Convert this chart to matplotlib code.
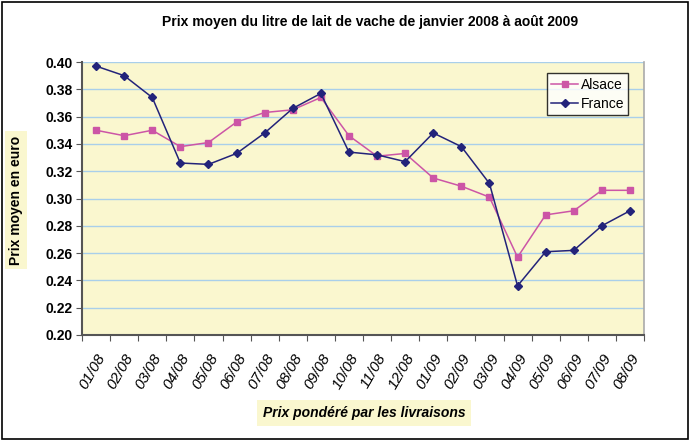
import matplotlib
matplotlib.use("Agg")
import matplotlib.pyplot as plt
from matplotlib.patches import Rectangle

plt.rcParams['font.family'] = ['Liberation Sans', 'DejaVu Sans']

months = ["01/08", "02/08", "03/08", "04/08", "05/08", "06/08", "07/08", "08/08", "09/08", "10/08",
          "11/08", "12/08", "01/09", "02/09", "03/09", "04/09", "05/09", "06/09", "07/09", "08/09"]
alsace = [0.350, 0.346, 0.350, 0.338, 0.341, 0.356, 0.363, 0.365, 0.374, 0.346,
          0.331, 0.333, 0.315, 0.309, 0.301, 0.257, 0.288, 0.291, 0.306, 0.306]
france = [0.397, 0.390, 0.374, 0.326, 0.325, 0.333, 0.348, 0.366, 0.377, 0.334,
          0.332, 0.327, 0.348, 0.338, 0.311, 0.236, 0.261, 0.262, 0.280, 0.291]
yticks = [0.20, 0.22, 0.24, 0.26, 0.28, 0.30, 0.32, 0.34, 0.36, 0.38, 0.40]

fig = plt.figure(figsize=(6.9, 4.41), dpi=100)
fig.patches.append(Rectangle((0.003, 0.005), 0.994, 0.99, transform=fig.transFigure,
                             fill=False, edgecolor='black', linewidth=1.2))
ax = fig.add_axes([82/690, 1-335/441, 562/690, 273/441])
ax.set_facecolor('#FAF7CF')

x = list(range(len(months)))
ax.plot(x, alsace, color='#CC55A6', marker='s', markersize=5, linewidth=1.1, label='Alsace', zorder=3)
ax.plot(x, france, color='#23237A', marker='D', markersize=4, linewidth=1.1, label='France', zorder=3)

ax.set_ylim(0.20, 0.40)
ax.set_xlim(-0.5, len(months) - 0.5)
ax.set_yticks(yticks)
ax.set_yticklabels([f"{v:.2f}" for v in yticks], fontsize=10, fontweight='bold')
ax.yaxis.grid(True, color='#A9CFEA', linewidth=1.0)
ax.set_axisbelow(True)

ax.set_xticks([i - 0.5 for i in range(len(months) + 1)])
ax.set_xticklabels([])
ax.set_xticks(x, minor=True)
ax.set_xticklabels(months, minor=True, rotation=60, ha='right', va='top', fontsize=11,
                   style='italic', rotation_mode='anchor')
ax.tick_params(axis='x', which='major', direction='out', length=4, color='#555555')
ax.tick_params(axis='x', which='minor', length=0, pad=12)
ax.tick_params(axis='y', direction='out', length=4, color='#555555', pad=3)

for s in ['left', 'bottom']:
    ax.spines[s].set_color('#555555')
    ax.spines[s].set_linewidth(1.5)
ax.spines['right'].set_color('#AAAAAA')
ax.spines['right'].set_linewidth(1.2)
ax.spines['top'].set_visible(False)

leg = ax.legend(loc='upper right', bbox_to_anchor=(0.972, 0.958), fontsize=10, frameon=True,
                fancybox=False, edgecolor='black', handlelength=1.9, borderpad=0.3,
                labelspacing=0.4, handletextpad=0.2, borderaxespad=0.0)
leg.get_frame().set_linewidth(1.0)

fig.text(370/690, 1-22/441, "Prix moyen du litre de lait de vache de janvier 2008 à août 2009",
         ha='center', va='center', fontsize=10, fontweight='bold')
fig.text(16/690, 1-200/441, "Prix moyen en euro", rotation=90, ha='center', va='center',
         fontsize=10, fontweight='bold',
         bbox=dict(facecolor='#FAF7CF', edgecolor='none', pad=3))
fig.text(364/690, 1-413/441, "Prix pondéré par les livraisons", ha='center', va='center',
         fontsize=10, fontweight='bold', style='italic',
         bbox=dict(facecolor='#FAF7CF', edgecolor='none', pad=4))

fig.savefig('out.png', dpi=100)
